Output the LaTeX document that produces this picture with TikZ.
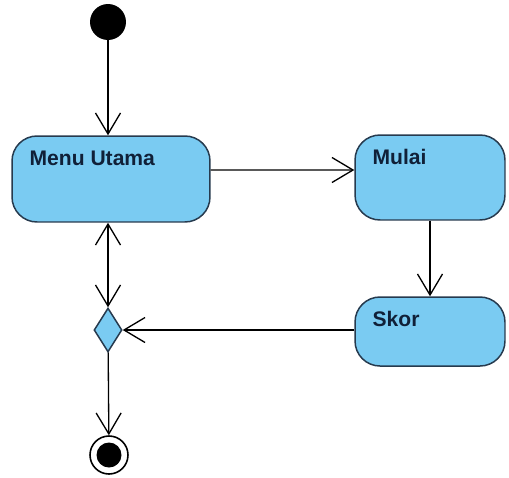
\documentclass[tikz,border=0pt]{standalone}
\usepackage{fontspec}
\setmainfont{Liberation Sans}
\usetikzlibrary{arrows.meta,shapes.geometric}

\definecolor{actfill}{RGB}{122,203,242}
\definecolor{actline}{RGB}{38,58,78}
\definecolor{acttext}{RGB}{16,32,56}

\begin{document}
\begin{tikzpicture}[
  x=.02cm, y=-.02cm,
  >={Straight Barb[length=.42cm, width=.5cm]},
  action/.style={
    draw=actline, fill=actfill, line width=.85pt,
    rounded corners=.5cm, inner sep=0pt,
  },
  caption/.style={
    anchor=north west, inner sep=0pt, text=acttext,
    font=\fontsize{12}{14}\selectfont\bfseries,
  },
  flow/.style={line width=.75pt, ->},
]

  \useasboundingbox (0,0) rectangle (509,477);

  \node (start) [circle, fill=black, minimum size=.72cm, inner sep=0pt] at (108,22) {};

  \node (menu) [action, minimum width=3.96cm, minimum height=1.72cm] at (111,179) {};
  \node (mulai) [action, minimum width=3cm, minimum height=1.7cm] at (430,177.5) {};
  \node (skor) [action, minimum width=3cm, minimum height=1.38cm] at (430,331.5) {};

  \node (menutext) [caption] at ([shift={(18,15)}]menu.north west) {Menu Utama};
  \node (mulaitext) [caption] at ([shift={(18,15)}]mulai.north west) {Mulai};
  \node (skortext) [caption] at ([shift={(18,15)}]skor.north west) {Skor};

  \node (dec) [diamond, draw=actline, fill=actfill, line width=.85pt,
    minimum width=.56cm, minimum height=.88cm, inner sep=0pt] at (108,330) {};

  \node (stop) [circle, draw, line width=.9pt, minimum size=.76cm, inner sep=0pt] at (109,455) {};
  \node (stopdot) [circle, fill=black, minimum size=.5cm, inner sep=0pt] at (stop) {};

  \draw [flow] (start) -- (start |- menu.north);
  \draw [flow] ([yshift=.18cm]menu.east) -- ([yshift=.15cm]mulai.west);
  \draw [flow] (mulai) -- (skor);
  \draw [flow] (skor.west |- dec) -- (dec.east);
  \draw [flow, <->] (dec.north |- menu.south) -- (dec.north);
  \draw [flow] (dec) -- (stop);

\end{tikzpicture}
\end{document}
